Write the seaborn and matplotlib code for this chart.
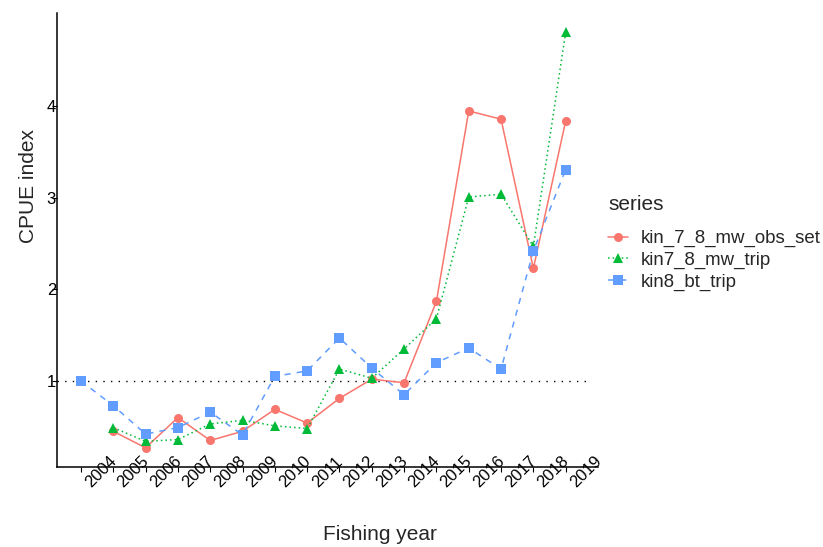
import numpy as np
import pandas as pd
import matplotlib
matplotlib.use("Agg")
import matplotlib.pyplot as plt
import matplotlib.transforms as mtransforms
import seaborn as sns

# CPUE index series
series_names = ['kin_7_8_mw_obs_set', 'kin7_8_mw_trip', 'kin8_bt_trip']
obs_set_years = list(range(2005, 2020))
obs_set = [0.45, 0.27, 0.60, 0.35, 0.45, 0.69, 0.54, 0.81, 1.02, 0.98, 1.87, 3.95, 3.86, 2.23, 3.84]
mw_trip_years = list(range(2005, 2020))
mw_trip = [0.49, 0.34, 0.36, 0.53, 0.57, 0.51, 0.48, 1.13, 1.03, 1.35, 1.68, 3.01, 3.04, 2.47, 4.81]
bt_trip_years = list(range(2004, 2020))
bt_trip = [1.00, 0.73, 0.42, 0.49, 0.66, 0.41, 1.05, 1.11, 1.47, 1.14, 0.85, 1.20, 1.36, 1.13, 2.42, 3.31]
year_ticks = list(range(2004, 2020))
y_ticks = [1, 2, 3, 4]

df = pd.concat([
    pd.DataFrame({'year': obs_set_years, 'cpue': obs_set, 'series': series_names[0]}),
    pd.DataFrame({'year': mw_trip_years, 'cpue': mw_trip, 'series': series_names[1]}),
    pd.DataFrame({'year': bt_trip_years, 'cpue': bt_trip, 'series': series_names[2]}),
])

sns.set_style("ticks")
plt.rcParams['font.family'] = ['Liberation Sans', 'DejaVu Sans']

colores = dict(zip(series_names, ['#F8766D', '#00BA38', '#619CFF']))
marcas = dict(zip(series_names, ['o', '^', 's']))
tracos = dict(zip(series_names, ['', (1, 2), (4, 4)]))

fig = plt.figure(figsize=(8.23, 5.47), dpi=100)
ax = fig.add_axes([56.7 / 823, 80 / 547, (598 - 56.7) / 823, (467 - 13) / 547])

# linha de referencia em 1
ax.plot([2003.25, 2019.75], [1, 1], color='black', lw=1.0, ls=(0, (1, 4.5)), zorder=1)

sns.lineplot(data=df, x='year', y='cpue', hue='series', style='series',
             hue_order=series_names, style_order=series_names,
             palette=colores, markers=marcas, dashes=tracos,
             markersize=6.5, markeredgewidth=0, linewidth=1.1, ax=ax)

ax.set_xlim(2003.25, 2020.0)
ax.set_ylim(0.06, 5.02)
ax.set_xticks(year_ticks)
ax.set_yticks(y_ticks)
ax.set_xticklabels([str(a) for a in year_ticks])
sns.despine(ax=ax)
for lado in ['left', 'bottom']:
    ax.spines[lado].set_linewidth(1.1)
    ax.spines[lado].set_color('black')
ax.tick_params(axis='both', length=3.5, width=0.8, color='black', labelcolor='black', labelsize=12)
ax.tick_params(axis='x', pad=0)
ax.tick_params(axis='y', pad=-3)

desloc = mtransforms.ScaledTranslation(20 / 100, 0, fig.dpi_scale_trans)
for rotulo in ax.get_xticklabels():
    rotulo.set_rotation(45)
    rotulo.set_ha('center')
    rotulo.set_va('center')
    rotulo.set_rotation_mode('anchor')
    rotulo.set_transform(rotulo.get_transform() + desloc)

ax.set_xlabel('Fishing year', fontsize=15, va='center')
ax.set_ylabel('CPUE index', fontsize=15, va='center')
ax.xaxis.set_label_coords((380 - 56.7) / 541.3, (467 - 535) / 454)
ax.yaxis.set_label_coords((28 - 56.7) / 541.3, (467 - 186) / 454)

handles, labels = ax.get_legend_handles_labels()
ax.get_legend().remove()
fig.text(608 / 823, 1 - 205 / 547, 'series', fontsize=15, ha='left', va='center')
leg = fig.legend(handles, labels, loc='upper left',
                 bbox_to_anchor=(608 / 823, 1 - 230 / 547), frameon=False,
                 fontsize=13.4, handlelength=1.05, handletextpad=0.7,
                 labelspacing=0.25, borderpad=0, borderaxespad=0)

fig.savefig('out.png', dpi=100)
